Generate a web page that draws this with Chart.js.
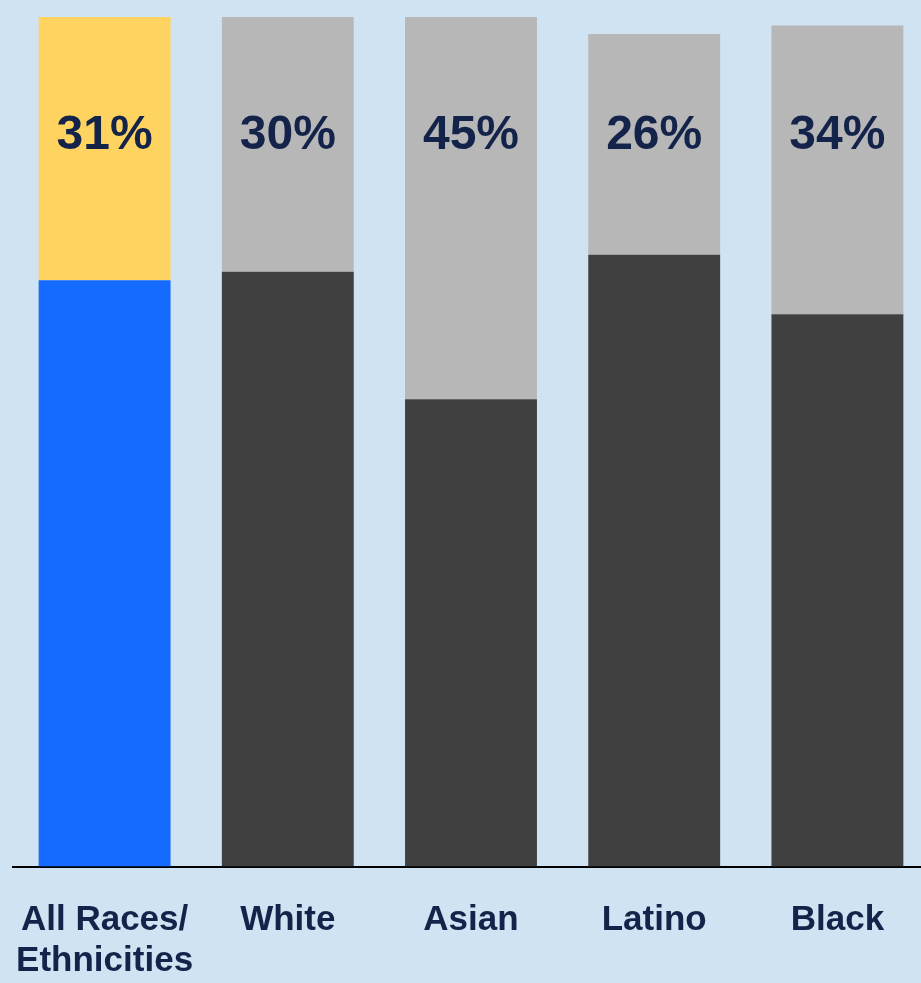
<!DOCTYPE html>
<html>
<head>
<meta charset="utf-8">
<script src="https://cdn.jsdelivr.net/npm/chart.js@4.4.1/dist/chart.umd.min.js"></script>
<style>
  html, body { margin: 0; padding: 0; background: #d0e3f2; overflow: hidden; }
  #wrap { position: relative; width: 932px; height: 1015px; }
</style>
</head>
<body>
<div id="wrap"><canvas id="barchart"></canvas></div>
<script>
const categories = [['All Races/', 'Ethnicities'], 'White', 'Asian', 'Latino', 'Black'];
const lowerValues = [69, 70, 55, 72, 65];
const upperValues = [31, 30, 45, 26, 34];
const upperLabels = ['31%', '30%', '45%', '26%', '34%'];

const lowerColors = ['#156bff', '#404040', '#404040', '#404040', '#404040'];
const upperColors = ['#ffd35f', '#b7b7b7', '#b7b7b7', '#b7b7b7', '#b7b7b7'];
const textColor = '#14234a';
const fontFamily = '"Liberation Sans", Arial, Helvetica, sans-serif';

// draws the percentage for each upper segment near the top of the chart
const percentLabels = {
    id: 'percentLabels',
    afterDatasetsDraw(chart) {
        const ctx = chart.ctx;
        const meta = chart.getDatasetMeta(1);
        const yPos = chart.scales.y.getPixelForValue(86);
        ctx.save();
        ctx.fillStyle = textColor;
        ctx.font = 'bold 48px ' + fontFamily;
        ctx.textAlign = 'center';
        ctx.textBaseline = 'middle';
        meta.data.forEach((bar, i) => {
            ctx.fillText(upperLabels[i], bar.x, yPos);
        });
        ctx.restore();
    }
};

const ctx = document.getElementById('barchart').getContext('2d');

new Chart(ctx, {
    type: 'bar',
    data: {
        labels: categories,
        datasets: [
            {
                data: lowerValues,
                backgroundColor: lowerColors,
                borderWidth: 0
            },
            {
                data: upperValues,
                backgroundColor: upperColors,
                borderWidth: 0
            }
        ]
    },
    options: {
        responsive: true,
        maintainAspectRatio: false,
        animation: false,
        layout: {
            padding: { top: 17, left: 13, right: 3, bottom: 0 }
        },
        plugins: {
            legend: { display: false },
            tooltip: { enabled: false }
        },
        datasets: {
            bar: { categoryPercentage: 1, barPercentage: 0.72 }
        },
        scales: {
            x: {
                stacked: true,
                grid: { display: false, drawTicks: false },
                border: { display: true, color: '#000000', width: 2 },
                ticks: {
                    color: textColor,
                    padding: 34,
                    maxRotation: 0,
                    font: { family: fontFamily, size: 35, weight: 'bold', lineHeight: 1.15 }
                },
                // labels may hang past the plot edge, keep the bars where they are
                afterFit(scale) {
                    scale.paddingLeft = 0;
                    scale.paddingRight = 0;
                }
            },
            y: {
                stacked: true,
                display: false,
                min: 0,
                max: 100
            }
        }
    },
    plugins: [percentLabels]
});
</script>
</body>
</html>
